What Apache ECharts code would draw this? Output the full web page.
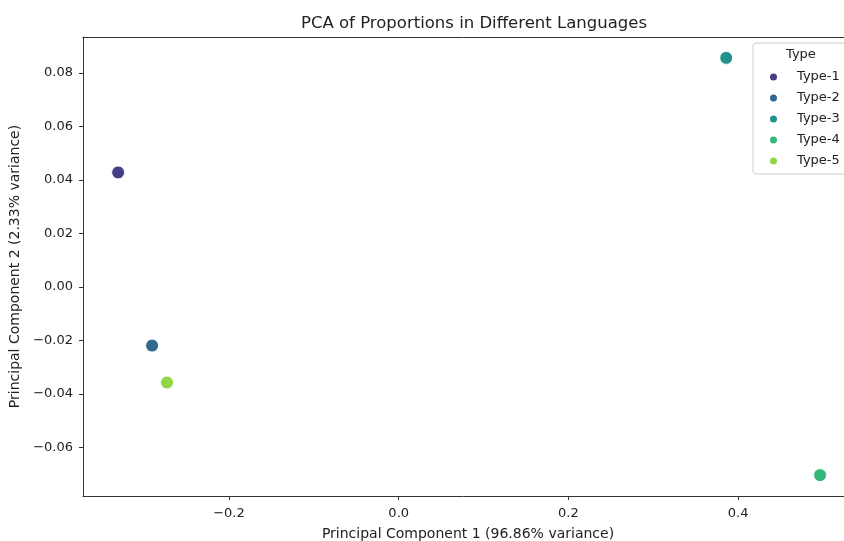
<!DOCTYPE html>
<html><head><meta charset="utf-8">
<script src="https://cdn.jsdelivr.net/npm/echarts@6/dist/echarts.min.js"></script>
<style>html,body{margin:0;padding:0;background:#fff}#c{width:844px;height:541px}</style>
</head><body><div id="c"></div>
<script>
const types = ['Type-1','Type-2','Type-3','Type-4','Type-5'];
const pc1 = [-0.3306, -0.2906, 0.3859, 0.4965, -0.2730];
const pc2 = [0.0428, -0.0219, 0.0856, -0.0703, -0.0357];
const colors = ['#433e85','#31688e','#21918c','#35b779','#90d743'];
const xTicks = [-0.2, 0.0, 0.2, 0.4];
const yTicks = [-0.06, -0.04, -0.02, 0.00, 0.02, 0.04, 0.06, 0.08];

const font = 'DejaVu Sans';
const fmt = (v, d) => { const s = Math.abs(v).toFixed(d); return (v < -1e-9 ? '\u2212' : '') + s; };

const chart = echarts.init(document.getElementById('c'));
chart.setOption({
  animation: false,
  textStyle: {fontFamily: font},
  title: {text: 'PCA of Proportions in Different Languages', left: 469, top: 10, textAlign: 'center',
    textStyle: {fontFamily: font, fontSize: 16.5, fontWeight: 'normal', color: '#222'}},
  grid: {left: 83, right: 0, top: 37, bottom: 45, containLabel: false, outerBoundsMode: 'none'},
  xAxis: [{type: 'value', min: -0.372, max: 0.5247,
    name: 'Principal Component 1 (96.86% variance)', nameLocation: 'middle', nameGap: 31,
    nameTextStyle: {fontFamily: font, fontSize: 14, color: '#222', padding: [0, 0, 0, 9]},
    splitLine: {show: false},
    axisLine: {show: true, onZero: false, lineStyle: {color: '#333'}},
    axisTick: {show: true, length: 4, customValues: xTicks, lineStyle: {color: '#333'}},
    axisLabel: {customValues: xTicks, fontSize: 13, color: '#222', margin: 11, formatter: v => fmt(v, 1)}},
   {type: 'value', position: 'top', min: -0.372, max: 0.5247,
    splitLine: {show: false}, axisTick: {show: false}, axisLabel: {show: false},
    axisLine: {show: true, onZero: false, lineStyle: {color: '#333'}}}],
  yAxis: {type: 'value', min: -0.0781, max: 0.0934,
    name: 'Principal Component 2 (2.33% variance)', nameLocation: 'middle', nameGap: 58,
    nameTextStyle: {fontFamily: font, fontSize: 14, color: '#222'},
    splitLine: {show: false},
    axisLine: {show: true, onZero: false, lineStyle: {color: '#333'}},
    axisTick: {show: true, length: 4, customValues: yTicks, lineStyle: {color: '#333'}},
    axisLabel: {customValues: yTicks, fontSize: 13, color: '#222', margin: 10, formatter: v => fmt(v, 2)}},
  legend: {orient: 'vertical', left: 753, top: 43, data: types,
    padding: [27, 40, 6, 15], itemGap: 7, itemWidth: 9, itemHeight: 9, icon: 'circle',
    backgroundColor: 'rgba(255,255,255,0.8)', borderColor: '#ccc', borderWidth: 1, borderRadius: 3,
    textStyle: {fontFamily: font, fontSize: 13, color: '#222', lineHeight: 14, padding: [0, 0, 0, 14]}},
  graphic: [{type: 'text', left: 786, top: 48, z: 100,
    style: {text: 'Type', fontFamily: font, fontSize: 13, fill: '#222'}}],
  series: types.map((t, i) => ({
    name: t, type: 'scatter', symbolSize: 13, xAxisIndex: 0,
    itemStyle: {color: colors[i], opacity: 1, borderColor: '#fff', borderWidth: 1},
    data: [[pc1[i], pc2[i]]]
  }))
});
</script></body></html>
